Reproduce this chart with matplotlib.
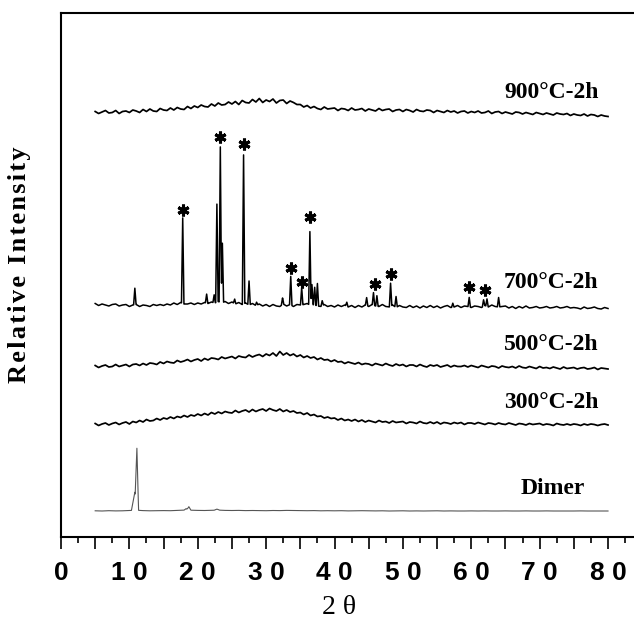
import numpy as np
import matplotlib
matplotlib.use("Agg")
import matplotlib.pyplot as plt
from matplotlib.ticker import FixedLocator, FixedFormatter

# ---------------------------------------------------------------------------
# XRD patterns (2-theta in degrees, intensity in arbitrary stacked units)
# ---------------------------------------------------------------------------
two_theta = np.linspace(5.0, 80.0, 151)          # 0.5 degree sampling

# 900 C - 2 h : amorphous hump
i_900 = [5.5, 3.5, 5, 6.5, 4, 4.5, 6.5, 3.5, 5.5, 6,
         4.5, 7, 6, 4.5, 7.5, 5.5, 8, 6, 5.5, 8.5,
         7, 6.5, 9, 7, 9.5, 8, 7.5, 10.5, 8.5, 11,
         9.5, 12, 10.5, 10, 13, 11, 14, 12, 12.5, 15,
         13, 15.5, 12.5, 16.5, 14.5, 14, 17.5, 15, 18.5, 14.5,
         17, 15.5, 18, 14, 16.5, 17, 13.5, 16, 14.5, 12.5,
         12.5, 10, 11.5, 9, 10.5, 8.5, 7.5, 10, 8, 8.5,
         9, 6.5, 8.5, 8, 6.5, 9, 7, 7.5, 8.5, 6,
         8, 7, 6, 8.5, 6.5, 7.5, 8, 5.5, 7, 7.5,
         5.5, 7.5, 6.5, 5, 7.5, 6, 5.5, 7, 6.5, 4.5,
         6.5, 5.5, 4.5, 6.5, 5, 6, 4, 5.5, 6, 4,
         5.5, 4.5, 6, 4, 4.5, 6, 3.5, 5, 5.5, 3.5,
         5, 4, 3, 5, 4.5, 3, 4.5, 3.5, 2.5, 4.5,
         3.5, 2.5, 4, 3, 2, 4, 3, 2.5, 3.5, 1.5,
         3, 2, 1.5, 3, 1, 2.5, 2, 0.5, 2, 1,
         0.5]

# 700 C - 2 h : background under the crystalline reflections
i_700_bg = [5.5, 3.5, 5, 4, 3, 4.5, 5, 3, 4, 4.5,
            2.5, 4, 4.5, 2.5, 4, 3.5, 2.5, 4.5, 3.5, 4.5,
            3.5, 5, 4, 6, 4.5, 6.5, 5, 5, 6, 4.5,
            6, 5, 6.5, 5.5, 7, 6, 7.5, 6, 7.5, 5.5,
            7, 5, 6.5, 4.5, 6, 4, 5.5, 3.5, 5, 3,
            4.5, 2.5, 4.5, 3, 2.5, 5, 3, 4.5, 2.5, 4.5,
            4, 4.5, 5.5, 3.5, 4.5, 3, 2.5, 4.5, 2.5, 3.5,
            2, 4, 2.5, 4, 2, 3.5, 1.5, 3.5, 2, 4,
            2.5, 4.5, 3, 2.5, 4.5, 2.5, 2, 4, 1.5, 3.5,
            2, 1.5, 3.5, 1.5, 3, 1, 3, 1.5, 3.5, 1.5,
            3, 1, 2.5, 3.5, 1.5, 2, 3.5, 1.5, 3, 2.5,
            1.5, 3, 2.5, 1.5, 3.5, 2, 4, 2.5, 2, 2.5,
            3, 1, 2.5, 0.5, 2.5, 1, 3, 1, 1.5, 2.5,
            1, 1.5, 2.5, 1, 1.5, 2.5, 1, 1.5, 2.5, 1,
            1.5, 1, 0, 2, 0.5, 1, 2, 0.5, 0, 1.5,
            0.5]

# 700 C - 2 h : reflections (position, height above background)
peaks_700_pos = [10.8, 17.8, 21.3, 22.4, 22.8, 23.3, 23.6, 25.4, 26.7, 27.5,
                 28.6, 32.4, 33.6, 35.2, 36.4, 36.7, 37.1, 37.5, 38.2, 41.8,
                 44.7, 45.7, 46.2, 48.2, 49.0, 57.3, 59.7, 61.8, 62.3, 64.0]
peaks_700_height = [16.5, 85.5, 9, 8, 98, 155.5, 59.5, 4.5, 149, 24,
                    3, 6.5, 28.5, 17, 73.5, 20.5, 17.5, 22.5, 5, 4,
                    8, 12.5, 10.5, 23, 11, 4, 9.5, 6.5, 7.5, 9.5]

# reflections marked with an asterisk (position, marker level)
star_pos = [17.8, 23.3, 26.7, 33.6, 35.2, 36.4, 45.9, 48.2, 59.7, 62.0]
star_level = [99, 172, 165, 41, 27, 92, 25, 35, 22, 19]

# 500 C - 2 h
i_500 = [2.5, 0.5, 2, 3, 1, 1.5, 3.5, 1.5, 2.5, 3.5,
         1.5, 3.5, 4, 2.5, 4.5, 3, 5, 4.5, 3.5, 6,
         4.5, 6.5, 5.5, 5, 7.5, 6, 7, 8.5, 6.5, 8,
         9, 7, 9.5, 8, 10, 9.5, 8.5, 11, 9.5, 10.5,
         11.5, 9.5, 12, 11, 10.5, 13, 11, 12.5, 13.5, 11.5,
         14, 12.5, 15, 12, 16.5, 13, 15, 12.5, 14, 11.5,
         13, 10.5, 12, 10, 11, 8.5, 10, 8, 8.5, 6.5,
         8, 6, 6.5, 4.5, 6, 5, 4, 5.5, 3.5, 4.5,
         4, 2.5, 4.5, 3.5, 2.5, 4.5, 3, 2, 4, 2.5,
         3.5, 1.5, 3, 3, 1.5, 3.5, 2, 1, 3, 2,
         3, 1, 2, 3, 1, 2.5, 1.5, 1.5, 2.5, 1,
         2.5, 1.5, 0.5, 2.5, 1.5, 0.5, 2, 1.5, 0, 2,
         1, 0.5, 1.5, 0, 2, 0.5, 0, 1.5, 0.5, -0.5,
         1.5, 0, 0.5, -0.5, 1, 0, -1, 1, -0.5, 0,
         0.5, -1, 0, 0.5, -1, -0.5, 0.5, -1.5, 0, -0.5,
         -1]

# 300 C - 2 h
i_300 = [1.5, -0.5, 1, 2, 0, 1.5, 2.5, 0.5, 2, 3,
         1, 3.5, 2.5, 4.5, 3, 5.5, 4, 4.5, 6.5, 5,
         7, 6, 8, 6.5, 8.5, 7.5, 9.5, 8, 10, 9,
         11, 9.5, 11.5, 10, 12.5, 11, 13, 11.5, 13.5, 12.5,
         12, 14.5, 12.5, 14, 15, 13, 15.5, 13.5, 15, 16,
         14, 16.5, 15, 14, 16, 13.5, 15, 13, 14, 12,
         12.5, 10.5, 12, 9.5, 10.5, 8.5, 9, 7, 8, 6.5,
         7, 5, 6.5, 4.5, 5.5, 4, 5.5, 3.5, 5, 3,
         4.5, 3.5, 2.5, 4.5, 3, 3.5, 2, 4, 2.5, 3,
         3.5, 1.5, 3, 2.5, 1.5, 3.5, 2, 1.5, 3, 1.5,
         3, 1, 2.5, 2, 1, 2.5, 1.5, 2.5, 0.5, 2,
         2, 1, 2.5, 1.5, 0.5, 2, 1.5, 0.5, 2, 1,
         0.5, 2, 1, 0, 1.5, 1, 0, 1.5, 0.5, 1,
         1.5, 0, 1, 0.5, -0.5, 1.5, 0.5, 0, 1, 0,
         1, 0.5, -0.5, 1, 0, 1, 0.5, -0.5, 0.5, 1,
         0]

# Dimer : smooth baseline on a 1 degree grid plus sharp reflections
two_theta_dimer = np.linspace(5.0, 80.0, 76)
i_dimer_bg = [0.2, 0, 0.3, 0.1, 0.2, 0.5, 0.8, 0.4, 0.2, 0.3,
              0.4, 0.3, 0.6, 0.9, 0.8, 0.6, 0.5, 0.7, 0.9, 0.6,
              0.5, 0.6, 0.4, 0.5, 0.4, 0.3, 0.5, 0.4, 0.6, 0.5,
              0.4, 0.3, 0.4, 0.2, 0.3, 0.2, 0.3, 0.1, 0.2, 0.3,
              0.2, 0.1, 0.2, 0, 0.1, 0.2, 0, 0.1, 0, 0.1,
              0.2, 0, 0.1, 0, 0, 0.1, 0, 0.1, 0, 0,
              0.1, 0, 0, 0.1, 0, 0, 0.1, 0, 0, 0,
              0, 0.1, 0, 0, 0, 0]
dimer_peak_pos = [10.8, 11.1, 18.3, 18.7, 22.8]
dimer_peak_height = [18, 54.8, 1.5, 3.5, 1]
dimer_peak_halfwidth = [0.5, 0.25, 0.3, 0.3, 0.4]

# vertical stacking offsets and curve labels
series_names = ["900°C-2h", "700°C-2h", "500°C-2h", "300°C-2h", "Dimer"]
series_offsets = [420, 228, 169, 112, 26]

# axis tick labels
label_ticks = [0, 10, 20, 30, 40, 50, 60, 70, 80]
label_texts = ["0", "1 0", "2 0", "3 0", "4 0", "5 0", "6 0", "7 0", "8 0"]
y_title = "Relative Intensity"
x_title = "2 θ"


def with_peaks(x, bg, pos, height, halfwidth):
    """Background polyline with narrow triangular reflections added."""
    x = np.asarray(x, float)
    bg = np.asarray(bg, float)
    pos = np.asarray(pos, float)
    height = np.asarray(height, float)
    halfwidth = np.broadcast_to(np.asarray(halfwidth, float), pos.shape)
    xs = np.union1d(x, np.concatenate([pos - halfwidth, pos, pos + halfwidth]))
    ys = np.interp(xs, x, bg)
    for p, h, w in zip(pos, height, halfwidth):
        ys = ys + h * np.clip(1.0 - np.abs(xs - p) / w, 0.0, None)
    return xs, ys


W, H = 634, 622
fig = plt.figure(figsize=(W / 100, H / 100), dpi=100)
ax = fig.add_axes([61 / W, 85 / H, 573 / W, 524 / H])

serif = "Liberation Serif"
sans = "Liberation Sans"
lw = 1.25

# 900
ax.plot(two_theta, np.asarray(i_900) + series_offsets[0], color="black", lw=lw)
# 700
x7, y7 = with_peaks(two_theta, i_700_bg, peaks_700_pos, peaks_700_height, 0.18)
ax.plot(x7, y7 + series_offsets[1], color="black", lw=1.1)
ax.plot(star_pos, np.asarray(star_level) + series_offsets[1], linestyle="none",
        marker=(6, 2, 0), markersize=8.5, markeredgewidth=2.2,
        markeredgecolor="black", color="black")
# 500
ax.plot(two_theta, np.asarray(i_500) + series_offsets[2], color="black", lw=lw)
# 300
ax.plot(two_theta, np.asarray(i_300) + series_offsets[3], color="black", lw=lw)
# Dimer
xd, yd = with_peaks(two_theta_dimer, i_dimer_bg, dimer_peak_pos,
                    dimer_peak_height, dimer_peak_halfwidth)
ax.plot(xd, yd + series_offsets[4], color="#555555", lw=0.8)

# curve labels
label_style = dict(family=serif, fontweight="bold", fontsize=17,
                   ha="right", va="center")
ax.text(78.6, 445, series_names[0], **label_style)
ax.text(78.6, 254, series_names[1], **label_style)
ax.text(78.6, 192, series_names[2], **label_style)
ax.text(78.6, 134, series_names[3], **label_style)
ax.text(76.6, 48, series_names[4], **label_style)

ax.set_xlim(0, 83.8)
ax.set_ylim(0, 524)

ax.spines["right"].set_visible(False)
for side in ("left", "bottom", "top"):
    ax.spines[side].set_linewidth(1.5)

major = np.arange(0, 81, 5)
ax.xaxis.set_major_locator(FixedLocator(major))
lab = dict(zip(label_ticks, label_texts))
ax.xaxis.set_major_formatter(FixedFormatter([lab.get(int(t), "") for t in major]))
ax.xaxis.set_minor_locator(FixedLocator(np.arange(2.5, 84, 5)))
ax.tick_params(axis="x", which="major", direction="out", length=8.5,
               width=1.2, pad=9)
ax.tick_params(axis="x", which="minor", direction="out", length=4.5, width=1.2)
for t in ax.get_xticklabels():
    t.set_fontfamily(sans)
    t.set_fontweight("bold")
    t.set_fontsize(19)
ax.set_yticks([])

fig.text(339 / W, 1 - 607 / H, x_title, family=serif, fontsize=20,
         ha="center", va="center")
# letters of the axis title set slightly apart
fig.text(20 / W, 1 - 265 / H, "\u200a".join(y_title), family=serif,
         fontweight="bold", fontsize=19, rotation=90, ha="center", va="center")

fig.savefig("out.png", dpi=100)
